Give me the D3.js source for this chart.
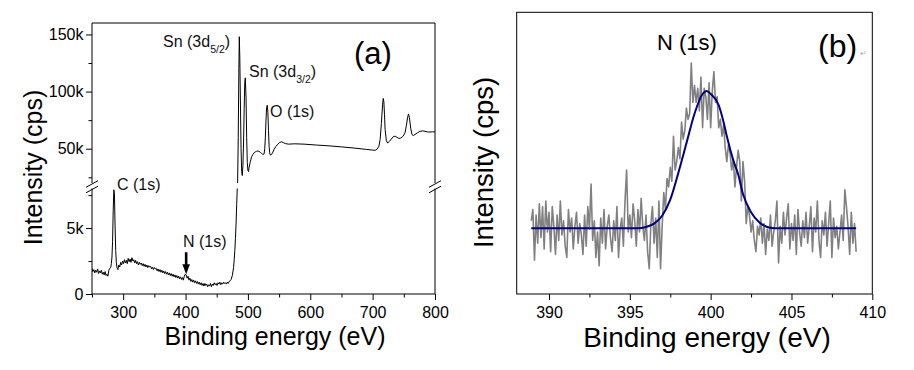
<!DOCTYPE html>
<html>
  <head>
    <meta charset="utf-8">
    <title>XPS: survey spectrum and N 1s region</title>
    <script src="https://d3js.org/d3.v7.min.js"></script>
    <style>
      body { margin: 0; background: #fff; }
      svg { display: block; font-family: "Liberation Sans", Arial, sans-serif; }
    </style>
  </head>
  <body>
    <script>
      // (a) survey spectrum: [binding energy (eV), intensity (k cps)]
      var surveyData = [
        [250, 1.95], [251.5, 1.7], [253, 1.85], [254.5, 1.6], [256, 1.8], [257.5, 1.65], [259, 1.9], [260.5, 1.55],
        [262, 1.75], [263.5, 1.6], [265, 1.8], [266.5, 1.5], [268, 1.65], [269.5, 1.45], [271, 1.7], [272.5, 1.4],
        [274, 1.5], [275.5, 1.35], [277, 1.8], [278.5, 1.95], [280, 2.0], [281, 2.3], [282, 2.8], [283, 4.0],
        [284, 6.3], [285, 7.9], [286, 7.6], [287, 5.2], [288, 3.3], [289, 2.4], [290, 2.0], [291.5, 1.85],
        [293, 2.2], [294.5, 2.05], [296, 2.4], [297.5, 2.2], [299, 2.5], [300.5, 2.3], [302, 2.6], [303.5, 2.35],
        [305, 2.55], [306.5, 2.3], [308, 2.7], [309.5, 2.45], [311, 2.65], [312.5, 2.4], [314, 2.75], [315.5, 2.5],
        [317, 2.6], [318.5, 2.35], [320, 2.55], [321.5, 2.3], [323, 2.45], [324.5, 2.2], [326, 2.4], [327.5, 2.25],
        [329, 2.35], [330.5, 2.15], [332, 2.3], [333.5, 2.1], [335, 2.25], [336.5, 2.05], [338, 2.2], [339.5, 2.0],
        [341, 2.15], [342.5, 2.05], [344, 2.1], [345.5, 1.9], [347, 2.05], [348.5, 1.85], [350, 2.0], [351.5, 1.9],
        [353, 1.95], [354.5, 1.75], [356, 1.9], [357.5, 1.7], [359, 1.85], [360.5, 1.65], [362, 1.8], [363.5, 1.6],
        [365, 1.75], [366.5, 1.55], [368, 1.7], [369.5, 1.5], [371, 1.65], [372.5, 1.45], [374, 1.6], [375.5, 1.4],
        [377, 1.55], [378.5, 1.35], [380, 1.5], [381.5, 1.3], [383, 1.45], [384.5, 1.25], [386, 1.4], [387.5, 1.2],
        [389, 1.35], [390.5, 1.15], [392, 1.3], [393.5, 1.1], [395, 1.25], [396.5, 1.05], [398, 1.35], [399.5, 1.5],
        [401, 1.45], [402.5, 1.2], [404, 1.35], [405.5, 1.05], [407, 1.2], [408.5, 0.95], [410, 1.1], [411.5, 0.9],
        [413, 1.05], [414.5, 0.85], [416, 1.0], [417.5, 0.8], [419, 0.95], [420.5, 0.75], [422, 0.9], [423.5, 0.7],
        [425, 0.85], [426.5, 0.65], [428, 0.8], [429.5, 0.6], [431, 0.8], [432.5, 0.65], [434, 0.75], [435.5, 0.55],
        [437, 0.7], [438.5, 0.6], [440, 0.8], [441.5, 0.55], [443, 0.75], [444.5, 0.65], [446, 0.85], [447.5, 0.7],
        [449, 0.8], [450.5, 0.65], [452, 0.85], [453.5, 0.75], [455, 0.9], [456.5, 0.7], [458, 0.85], [459.5, 0.75],
        [461, 0.9], [462.5, 0.8], [464, 0.85], [465.5, 0.75], [467, 0.9], [468.5, 0.8], [470, 0.95], [471.5, 1.0],
        [473, 1.1], [475, 1.4], [477, 2.0], [478, 2.6], [479, 3.3], [480, 4.2], [481, 5.3], [482, 6.8], [483, 9.5],
        [483.5, 20], [484.5, 60], [485.5, 120], [486.2, 148], [487, 130], [488, 90], [489, 50], [490, 30],
        [491, 26.5], [492, 35], [493, 55], [494, 85], [495, 108], [495.8, 112], [497, 95], [498, 60],
        [499, 38], [500, 31], [501, 30], [502, 34], [504, 39], [506, 43], [508, 45], [510, 46.5],
        [512, 47.3], [514, 47.8], [516, 48], [518, 47.6], [520, 46.8], [522, 45.8], [524, 45], [526, 45.5],
        [527, 50], [528, 60], [529, 75], [530, 86], [531, 88], [532, 82], [533, 66], [534, 52],
        [535, 46], [536, 44.5], [538, 45], [540, 47], [542, 49.5], [545, 52], [548, 54], [551, 55.5],
        [554, 56], [557, 55.3], [560, 54.5], [565, 54], [575, 54.3], [590, 54], [610, 53.2], [630, 52.5],
        [650, 51.6], [670, 50.6], [690, 49.4], [700, 48.8], [704, 48.6], [707, 49.5], [710, 52], [712, 58],
        [714, 72], [716, 89], [717, 94], [718, 91], [719, 80], [720, 67], [722, 57], [724, 55],
        [727, 56.5], [730, 58.5], [733, 60.5], [736, 61], [739, 60], [742, 59], [745, 59.3], [748, 60.5],
        [750, 62], [752, 64], [754, 70], [756, 77], [757.5, 80.5], [759, 77], [761, 68], [763, 62.5],
        [765, 61.5], [768, 62.5], [772, 64], [776, 65.2], [780, 65.6], [784, 65.2], [788, 64.7], [792, 64.6],
        [796, 64.8], [800, 64.7]
      ];
      var surveyXTicks = [300, 400, 500, 600, 700, 800],
        surveyXMinor = [250, 350, 450, 550, 650, 750],
        surveyYTicks = [0, 5, 50, 100, 150],
        surveyYMinor = [2.5, 7.5, 25, 75, 125];

      // peak labels for (a)
      var surveyLabels = [
        { text: "Sn (3d", sub: "5/2", x: 163, y: 47 },
        { text: "Sn (3d", sub: "3/2", x: 249, y: 77 },
        { text: "O (1s)", sub: null, x: 270, y: 117 },
        { text: "C (1s)", sub: null, x: 117, y: 190 },
        { text: "N (1s)", sub: null, x: 183, y: 247 }
      ];

      // (b) N 1s region, raw counts (arbitrary units) every 0.1 eV from 388.9 eV
      var n1sStart = 388.9, n1sStep = 0.1;
      var n1sCounts = [
        26,
        30, 12, 28, 18, 32, 20, 31, 16, 33, 22,
        29, 15, 31, 24, 14, 28, 19, 33, 21, 26,
        17, 13, 30, 22, 27, 16, 24, 29, 18, 25,
        21, 14, 28, 17, 31, 23, 39, 19, 26, 13,
        22, 10, 27, 18, 30, 16, 24, 28, 20, 15,
        26, 19, 31, 13, 23, 27, 17, 33, 44, 22,
        28, 20, 32, 26, 17, 30, 22, 34, 24, 19,
        28, 15, 9, 25, 31, 18, 27, 13, 33, 9,
        24, 36, 30, 41, 38, 45, 40, 56, 44, 47,
        52, 48, 61, 55, 58, 66, 62, 64, 82, 68,
        74, 68, 73, 65, 77, 59, 73, 70, 62, 75,
        59, 72, 79, 68, 70, 59, 62, 56, 60, 52,
        47, 53, 50, 44, 48, 38, 45, 51, 47, 33,
        47, 40, 25, 31, 28, 22, 26, 19, 15, 24,
        21, 27, 18, 25, 14, 23, 19, 28, 17, 22,
        26, 33, 11, 24, 18, 29, 21, 27, 32, 16,
        25, 19, 28, 14, 30, 22, 17, 26, 20, 29,
        18, 24, 31, 15, 27, 22, 33, 19, 13, 26,
        21, 29, 17, 25, 33, 13, 27, 20, 24, 16,
        22, 28, 19, 37, 31, 24, 14, 29, 18, 25,
        15
      ];
      // fitted peak: [eV, counts]
      var n1sFit = [
        [388.9, 23.3], [395.5, 23.3], [396.0, 23.8], [396.5, 25.0], [397.0, 27.8], [397.5, 33.5],
        [398.0, 43.0], [398.5, 53.5], [399.0, 64.0], [399.5, 71.0], [399.75, 72.1], [400.0, 71.0],
        [400.5, 67.0], [400.8, 61.0], [401.0, 56.0], [401.4, 47.5], [401.7, 42.5], [402.0, 35.5],
        [402.5, 29.0], [403.0, 25.5], [403.5, 23.8], [404.0, 23.3], [409.0, 23.3]
      ];
      var n1sXTicks = [390, 395, 400, 405, 410],
        n1sXMinor = [392.5, 397.5, 402.5, 407.5];

      var svg = d3.select("body").append("svg")
        .attr("width", 914)
        .attr("height", 370);

      // ---------- panel (a) ----------
      var a = { left: 92, right: 435, top: 23, bottom: 294, gapTop: 183, gapBottom: 188.5 };

      var xA = d3.scaleLinear().domain([250, 800]).range([a.left, a.right]);
      // broken axis: 0-8k below the break, 20k-160k above it
      var yA = d3.scaleLinear()
        .domain([0, 8, 20, 160])
        .range([a.bottom, a.gapBottom, a.gapTop, a.top]);

      var defs = svg.append("defs");
      defs.append("clipPath").attr("id", "clipLow")
        .append("rect").attr("x", a.left).attr("y", a.gapBottom)
        .attr("width", a.right - a.left).attr("height", a.bottom - a.gapBottom);
      defs.append("clipPath").attr("id", "clipHigh")
        .append("rect").attr("x", a.left).attr("y", a.top)
        .attr("width", a.right - a.left).attr("height", a.gapTop - a.top);

      var lineA = d3.line()
        .x(function(d) { return xA(d[0]); })
        .y(function(d) { return yA(d[1]); });

      ["clipLow", "clipHigh"].forEach(function(id) {
        svg.append("path")
          .datum(surveyData)
          .attr("clip-path", "url(#" + id + ")")
          .attr("d", lineA)
          .attr("fill", "none")
          .attr("stroke", "#000")
          .attr("stroke-width", 1);
      });

      // frame, with the gap at the break
      var frameA = svg.append("g").attr("stroke", "#000").attr("stroke-width", 1);
      [[a.left, a.top, a.right, a.top],
       [a.left, a.bottom, a.right, a.bottom],
       [a.left, a.top, a.left, a.gapTop],
       [a.left, a.gapBottom, a.left, a.bottom],
       [a.right, a.top, a.right, a.gapTop],
       [a.right, a.gapBottom, a.right, a.bottom]].forEach(function(s) {
        frameA.append("line").attr("x1", s[0]).attr("y1", s[1]).attr("x2", s[2]).attr("y2", s[3]);
      });
      // break marks
      [a.left, a.right].forEach(function(x0) {
        [a.gapTop + 1, a.gapBottom + 1].forEach(function(y0) {
          frameA.append("line")
            .attr("x1", x0 - 6).attr("y1", y0 + 3.3)
            .attr("x2", x0 + 6).attr("y2", y0 - 3.3);
        });
      });

      function styleAxis(g) {
        g.select(".domain").remove();
        g.selectAll("line").attr("stroke", "#000");
        g.selectAll("text").attr("fill", "#000").style("font-size", "16px")
          .style("font-family", "\"Liberation Sans\", Arial, sans-serif");
      }

      svg.append("g")
        .attr("transform", "translate(0," + a.bottom + ")")
        .call(d3.axisBottom(xA).tickValues(surveyXTicks).tickSize(6).tickPadding(6.5))
        .call(styleAxis);
      svg.append("g")
        .attr("transform", "translate(0," + a.bottom + ")")
        .call(d3.axisBottom(xA).tickValues(surveyXMinor).tickSize(3.5).tickFormat(""))
        .call(styleAxis);
      svg.append("g")
        .attr("transform", "translate(" + a.left + ",0)")
        .call(d3.axisLeft(yA).tickValues(surveyYTicks).tickSize(6).tickPadding(2.5)
          .tickFormat(function(d) { return d === 0 ? "0" : d + "k"; }))
        .call(styleAxis);
      svg.append("g")
        .attr("transform", "translate(" + a.left + ",0)")
        .call(d3.axisLeft(yA).tickValues(surveyYMinor).tickSize(3.5).tickFormat(""))
        .call(styleAxis);

      // peak labels
      surveyLabels.forEach(function(l) {
        var t = svg.append("text")
          .attr("x", l.x).attr("y", l.y)
          .style("font-size", "16px")
          .attr("fill", "#111");
        t.append("tspan").text(l.text);
        if (l.sub) {
          t.append("tspan").attr("dy", 6).style("font-size", "10.5px").text(l.sub);
          t.append("tspan").attr("dy", -6).text(")");
        }
      });

      // arrow pointing at N 1s
      var arrowX = xA(401), arrowTip = yA(1.5), arrowTop = arrowTip - 22;
      svg.append("path")
        .attr("d", "M" + (arrowX - 1.3) + "," + arrowTop +
          "H" + (arrowX + 1.3) + "V" + (arrowTip - 10) +
          "H" + (arrowX + 3.8) + "L" + arrowX + "," + arrowTip +
          "L" + (arrowX - 3.8) + "," + (arrowTip - 10) +
          "H" + (arrowX - 1.3) + "Z")
        .attr("fill", "#000");

      svg.append("text")
        .attr("x", 354).attr("y", 64)
        .style("font-size", "31px")
        .text("(a)");

      svg.append("text")
        .attr("transform", "translate(42,167.5) rotate(-90)")
        .attr("text-anchor", "middle")
        .style("font-size", "25px")
        .text("Intensity (cps)");
      svg.append("text")
        .attr("x", 275).attr("y", 345)
        .attr("text-anchor", "middle")
        .style("font-size", "25px")
        .text("Binding energy (eV)");

      // ---------- panel (b) ----------
      var b = { left: 516.7, right: 872.3, top: 12.3, bottom: 294 };

      var xB = d3.scaleLinear().domain([388, 410]).range([b.left, b.right]);
      var yB = d3.scaleLinear().domain([0, 100]).range([b.bottom, b.top]);

      var n1sData = n1sCounts.map(function(c, i) {
        return [+(n1sStart + i * n1sStep).toFixed(1), c];
      });

      var lineB = d3.line()
        .x(function(d) { return xB(d[0]); })
        .y(function(d) { return yB(d[1]); });

      svg.append("path")
        .datum(n1sData)
        .attr("d", lineB)
        .attr("fill", "none")
        .attr("stroke", "#808080")
        .attr("stroke-width", 1.6)
        .attr("stroke-linejoin", "round");

      svg.append("path")
        .datum(n1sFit)
        .attr("d", lineB.curve(d3.curveMonotoneX))
        .attr("fill", "none")
        .attr("stroke", "#000080")
        .attr("stroke-width", 2);

      svg.append("rect")
        .attr("x", b.left).attr("y", b.top)
        .attr("width", b.right - b.left).attr("height", b.bottom - b.top)
        .attr("fill", "none")
        .attr("stroke", "#000")
        .attr("stroke-width", 1);

      svg.append("g")
        .attr("transform", "translate(0," + b.bottom + ")")
        .call(d3.axisBottom(xB).tickValues(n1sXTicks).tickSize(6).tickPadding(6.5))
        .call(styleAxis);
      svg.append("g")
        .attr("transform", "translate(0," + b.bottom + ")")
        .call(d3.axisBottom(xB).tickValues(n1sXMinor).tickSize(3.5).tickFormat(""))
        .call(styleAxis);

      svg.append("text")
        .attr("x", 657).attr("y", 50)
        .style("font-size", "22px")
        .text("N (1s)");
      svg.append("text")
        .attr("x", 818).attr("y", 57)
        .style("font-size", "32px")
        .text("(b)");
      svg.append("text")
        .attr("x", 860).attr("y", 56)
        .style("font-size", "8px")
        .attr("fill", "#aaa")
        .text("\u21b5");

      svg.append("text")
        .attr("transform", "translate(493,162.5) rotate(-90)")
        .attr("text-anchor", "middle")
        .style("font-size", "27.5px")
        .text("Intensity (cps)");
      svg.append("text")
        .attr("x", 707).attr("y", 346.5)
        .attr("text-anchor", "middle")
        .style("font-size", "28px")
        .text("Binding energy (eV)");
    </script>
  </body>
</html>
